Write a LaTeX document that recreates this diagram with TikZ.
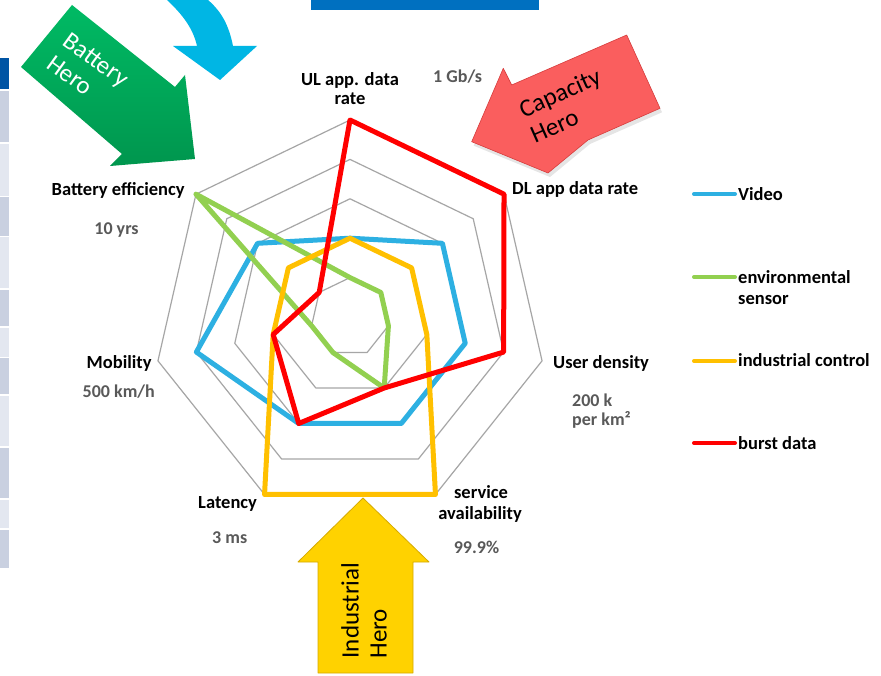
\documentclass[tikz,border=0pt]{standalone}
\usepackage{fontspec}
\setmainfont{Carlito}
\usetikzlibrary{calc}

\definecolor{vidblue}{RGB}{45,176,226}
\definecolor{envgreen}{RGB}{146,208,80}
\definecolor{indyellow}{RGB}{255,192,0}
\definecolor{burstred}{RGB}{255,0,0}
\definecolor{gridgray}{RGB}{166,166,166}
\definecolor{valgray}{RGB}{89,89,89}
\definecolor{barblue}{RGB}{0,112,192}
\definecolor{swirlblue}{RGB}{0,182,228}
\definecolor{herogreenlt}{RGB}{0,186,100}
\definecolor{herogreendk}{RGB}{0,150,78}
\definecolor{herored}{RGB}{250,94,94}
\definecolor{herorededge}{RGB}{215,60,60}
\definecolor{heroyellow}{RGB}{255,210,0}
\definecolor{heroyellowedge}{RGB}{214,170,0}
\definecolor{tabdark}{RGB}{0,84,164}
\definecolor{tabmid}{RGB}{201,208,224}
\definecolor{tablight}{RGB}{227,231,240}

\begin{document}
\begin{tikzpicture}[x=1pt,y=-1pt,
  lab/.style={font=\fontsize{18.5}{20}\selectfont\bfseries, inner sep=0pt},
  val/.style={font=\fontsize{18}{20}\selectfont\bfseries, text=valgray, inner sep=0pt},
  herotext/.style={font=\fontsize{25}{28}\selectfont, align=left, inner sep=0pt},
  ring/.style={draw=gridgray, line width=1.2pt, line join=round},
  series/.style={line width=5pt, line join=round},
  key/.style={line width=4pt, line cap=round}]

% page
\fill[white] (0,0) rectangle (881,676);
\useasboundingbox (0,0) rectangle (881,676);

% header bar and side table strip
\fill[barblue] (311,0) rectangle (539,10);
\fill[tabdark]  (0,58)  rectangle (9,89);
\fill[tabmid]   (0,91)  rectangle (9,142);
\fill[tablight] (0,144) rectangle (9,196);
\fill[tabmid]   (0,197) rectangle (9,236);
\fill[tablight] (0,237) rectangle (9,288);
\fill[tabmid]   (0,290) rectangle (9,326);
\fill[tablight] (0,328) rectangle (9,357);
\fill[tabmid]   (0,358) rectangle (9,394);
\fill[tablight] (0,396) rectangle (9,446);
\fill[tabmid]   (0,448) rectangle (9,498);
\fill[tablight] (0,500) rectangle (9,528);
\fill[tabmid]   (0,530) rectangle (9,568);

% curved arrow at the top
\fill[swirlblue] (167,0) .. controls (182,14) and (193,28) .. (197,46)
  -- (173,46) -- (220,80) -- (257,46) -- (233,46)
  .. controls (229,26) and (222,12) .. (208,0) -- cycle;

% radar grid and series
\begin{scope}[shift={(350,317)}]
  \foreach \k in {0,...,6}
    \foreach \v in {1,...,5}
      \coordinate (p\k-\v) at ({90-\k*360/7}:{\v*39.4pt});
  \foreach \v in {1,...,5}
    \draw[ring] (p0-\v) -- (p1-\v) -- (p2-\v) -- (p3-\v) -- (p4-\v) -- (p5-\v) -- (p6-\v) -- cycle;

  % Video
  \draw[series, vidblue] (p0-2) -- (p1-3) -- (p2-3) -- (p3-3) -- (p4-3) -- (p5-4) -- (p6-3) -- cycle;
  % environmental sensor
  \draw[series, envgreen] (p0-1) -- (p1-1) -- (p2-1) -- (p3-2) -- (p4-1) -- (p5-1) -- (p6-5) -- cycle;
  % industrial control
  \draw[series, indyellow] (p0-2) -- (p1-2) -- (p2-2) -- (p3-5) -- (p4-5) -- (p5-2) -- (p6-2) -- cycle;
  % burst data
  \draw[series, burstred] (p0-5) -- (p1-5) -- (p2-4) -- (p3-2) -- (p4-3) -- (p5-2) -- (p6-1) -- cycle;
\end{scope}

% Battery hero arrow
\shade[top color=herogreenlt, bottom color=herogreendk]
  (72,5) -- (175,87) -- (185,75) -- (195,159) -- (110,166) -- (122,154) -- (21,67) -- cycle;
\node[herotext, text=white, rotate=-36] (battHero) at (88,71) {Battery\\Hero};

% Capacity hero arrow with its soft shadow
\fill[black, opacity=0.10] (628.7,39) -- (662,112.3) -- (590,144) -- (550,177) -- (473.7,145.7) -- (505.3,72.3) -- (513.7,89) -- cycle;
\filldraw[fill=herored, draw=herorededge, line width=0.6pt, line join=round]
  (626.7,35) -- (660,108.3) -- (588,140) -- (548,173) -- (471.7,141.7) -- (503.3,68.3) -- (511.7,85) -- cycle;
\node[herotext, rotate=24] (capHero) at (565.5,105.5) {Capacity\\Hero};

% Industrial hero arrow
\filldraw[fill=heroyellow, draw=heroyellowedge, line width=0.8pt, line join=round]
  (363,498) -- (429,562) -- (413,562) -- (413,673) -- (318,673) -- (318,562) -- (298,562) -- cycle;
\node[herotext, rotate=90] (indHero) at (364,610.5) {Industrial\\Hero};

% axis labels
\node[lab, anchor=base] (ulA) at (350,86) {UL app. data};
\node[lab, anchor=base] (ulB) at (350,105) {rate};
\node[val, anchor=base west] (ulV) at (433,83) {1 Gb/s};
\node[lab, anchor=base west] (dlL) at (512,195) {DL app data rate};
\node[lab, anchor=base west] (udL) at (553,368) {User density};
\node[val, anchor=base west] (udA) at (572,406.5) {200 k};
\node[val, anchor=base west] (udB) at (572,425) {per km²};
\node[lab, anchor=base] (saA) at (481,498) {service};
\node[lab, anchor=base] (saB) at (480,519) {availability};
\node[val, anchor=base] (saV) at (476.5,553) {99.9\%};
\node[lab, anchor=base west] (latL) at (198,508) {Latency};
\node[val, anchor=base west] (latV) at (212,543) {3 ms};
\node[lab, anchor=base west] (mobL) at (86.5,369) {Mobility};
\node[val, anchor=base west] (mobV) at (82.5,397.5) {500 km/h};
\node[lab, anchor=base west] (batL) at (51.5,196) {Battery efficiency};
\node[val, anchor=base] (batV) at (116.5,235) {10 yrs};

% legend
\coordinate (kv1) at (694,194);  \coordinate (kv2) at (735,194);
\coordinate (ke1) at (694,277);  \coordinate (ke2) at (735,277);
\coordinate (ki1) at (694,361);  \coordinate (ki2) at (735,361);
\coordinate (kb1) at (694,443);  \coordinate (kb2) at (735,443);
\draw[key, vidblue]   (kv1) -- (kv2);
\draw[key, envgreen]  (ke1) -- (ke2);
\draw[key, indyellow] (ki1) -- (ki2);
\draw[key, burstred]  (kb1) -- (kb2);
\node[lab, anchor=base west] (legV)  at (738,200.5) {Video};
\node[lab, anchor=base west] (legE1) at (738,283.5) {environmental};
\node[lab, anchor=base west] (legE2) at (738,305) {sensor};
\node[lab, anchor=base west] (legI)  at (738,366.5) {industrial control};
\node[lab, anchor=base west] (legB)  at (738,449) {burst data};
\end{tikzpicture}
\end{document}
